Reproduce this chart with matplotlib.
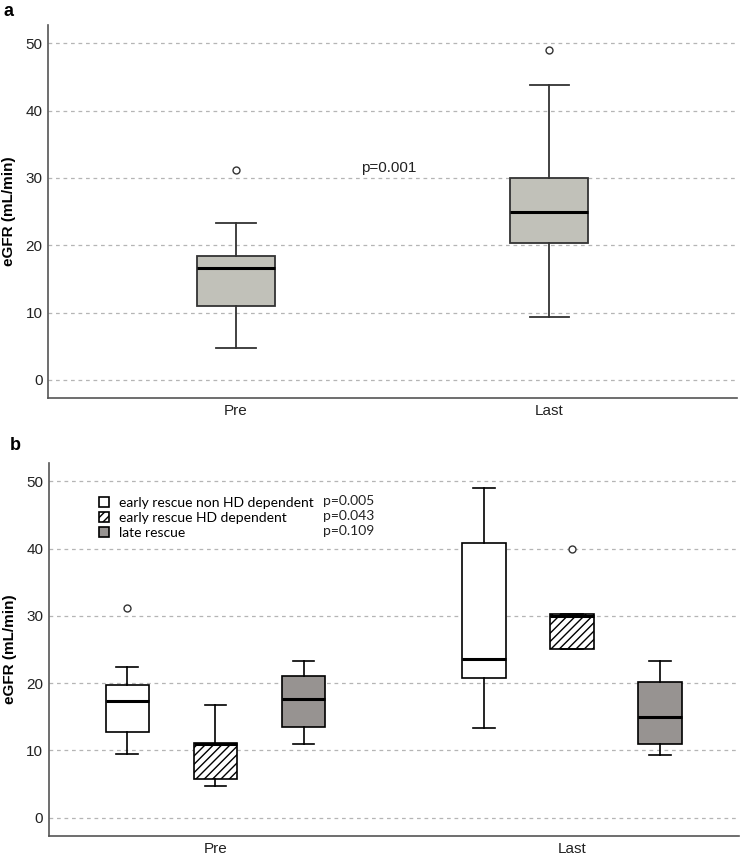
import matplotlib
matplotlib.use("Agg")
import matplotlib.pyplot as plt
from matplotlib.patches import Patch

plt.rcParams['font.family'] = ['Liberation Sans', 'DejaVu Sans']
plt.rcParams['hatch.linewidth'] = 1.0

# panel a: all patients
timepoints = ["Pre", "Last"]
a_whislo = [4.7, 9.4]
a_q1 = [11.0, 20.4]
a_med = [16.6, 25.0]
a_q3 = [18.4, 30.0]
a_whishi = [23.3, 43.8]
a_fliers = [[31.2], [49.0]]
a_pvalue = "p=0.001"

# panel b: by group, values per timepoint (Pre, Last)
groups = ["early rescue non HD dependent", "early rescue HD dependent", "late rescue"]
group_p = ["p=0.005", "p=0.043", "p=0.109"]
b_whislo = [[9.5, 13.3], [4.7, 25.1], [10.9, 9.4]]
b_q1 = [[12.7, 20.7], [5.7, 25.1], [13.5, 11.0]]
b_med = [[17.4, 23.6], [11.0, 30.0], [17.6, 14.9]]
b_q3 = [[19.7, 40.8], [11.1, 30.3], [21.1, 20.2]]
b_whishi = [[22.4, 49.0], [16.8, 30.3], [23.3, 23.3]]
b_fliers = [[[31.2], []], [[], [39.9]], [[], []]]

fills = ["white", "white", "#979391"]
hatches = [None, "////", None]

fig = plt.figure(figsize=(7.4, 8.56), dpi=100)
ax1 = fig.add_axes([0.065, 0.535, 0.931, 0.4357])
ax2 = fig.add_axes([0.066, 0.0234, 0.932, 0.4357])

def style_axis(ax):
    ax.set_ylim(-2.7, 52.7)
    ax.set_yticks([0, 10, 20, 30, 40, 50])
    ax.yaxis.grid(True, linestyle=(0, (3, 3)), color="#b5b5b5", linewidth=0.9)
    ax.set_axisbelow(True)
    for s in ["top", "right"]:
        ax.spines[s].set_visible(False)
    for s in ["left", "bottom"]:
        ax.spines[s].set_color("#555555")
        ax.spines[s].set_linewidth(1.2)
    ax.tick_params(axis="y", length=0, labelsize=11, colors="#222222", pad=4)
    ax.tick_params(axis="x", length=0, labelsize=11, colors="#222222", pad=4)
    ax.set_ylabel("eGFR (mL/min)", fontsize=11, fontweight="bold", labelpad=7)

# panel a
stats = []
for i in range(len(timepoints)):
    stats.append(dict(whislo=a_whislo[i], q1=a_q1[i], med=a_med[i], q3=a_q3[i],
                      whishi=a_whishi[i], fliers=a_fliers[i]))
ax1.bxp(stats, positions=[1, 2], widths=0.25, patch_artist=True, showfliers=True,
        boxprops=dict(facecolor="#c1c1b9", edgecolor="#333333", linewidth=1.3),
        medianprops=dict(color="black", linewidth=2.2),
        whiskerprops=dict(color="#333333", linewidth=1.3),
        capprops=dict(color="#333333", linewidth=1.3),
        flierprops=dict(marker="o", markersize=5, markerfacecolor="white",
                        markeredgecolor="#333333", markeredgewidth=1.0))
style_axis(ax1)
ax1.set_xlim(0.4, 2.6)
ax1.set_xticks([1, 2])
ax1.set_xticklabels(timepoints)
ax1.text(1.40, 31.5, a_pvalue, fontsize=11, ha="left", va="center", color="#222222")

# panel b
offsets = [-0.247, 0.0, 0.247]
for g in range(len(groups)):
    st = []
    for t in range(len(timepoints)):
        st.append(dict(whislo=b_whislo[g][t], q1=b_q1[g][t], med=b_med[g][t],
                       q3=b_q3[g][t], whishi=b_whishi[g][t], fliers=b_fliers[g][t]))
    pos = [1 + offsets[g], 2 + offsets[g]]
    bp = ax2.bxp(st, positions=pos, widths=0.123, patch_artist=True, showfliers=True,
                 boxprops=dict(facecolor=fills[g], edgecolor="black", linewidth=1.2),
                 medianprops=dict(color="black", linewidth=2.2),
                 whiskerprops=dict(color="black", linewidth=1.2),
                 capprops=dict(color="black", linewidth=1.2),
                 flierprops=dict(marker="o", markersize=5, markerfacecolor="white",
                                 markeredgecolor="#333333", markeredgewidth=1.0))
    if hatches[g]:
        for b in bp["boxes"]:
            b.set_hatch(hatches[g])
style_axis(ax2)
ax2.set_xlim(0.5325, 2.4675)
ax2.set_xticks([1, 2])
ax2.set_xticklabels(timepoints)

handles = [Patch(facecolor=fills[g], edgecolor="black", hatch=hatches[g], linewidth=1.2)
           for g in range(len(groups))]
leg = ax2.legend(handles, groups, loc="upper left", bbox_to_anchor=(0.064, 0.925),
                 frameon=False, handlelength=0.75, handleheight=0.75,
                 handletextpad=0.7, labelspacing=0.22, borderaxespad=0,
                 prop={"family": ["Lato", "DejaVu Sans"], "size": 10})
for i, p in enumerate(group_p):
    ax2.text(0.397, 0.899 - i * 0.0405, p, transform=ax2.transAxes,
             family=["Lato", "DejaVu Sans"], fontsize=10,
             ha="left", va="center", color="#222222")

fig.text(0.005, 0.997, "a", fontsize=13, fontweight="bold", va="top")
fig.text(0.013, 0.49, "b", fontsize=13, fontweight="bold", va="top")

fig.savefig("out.png", dpi=100)
